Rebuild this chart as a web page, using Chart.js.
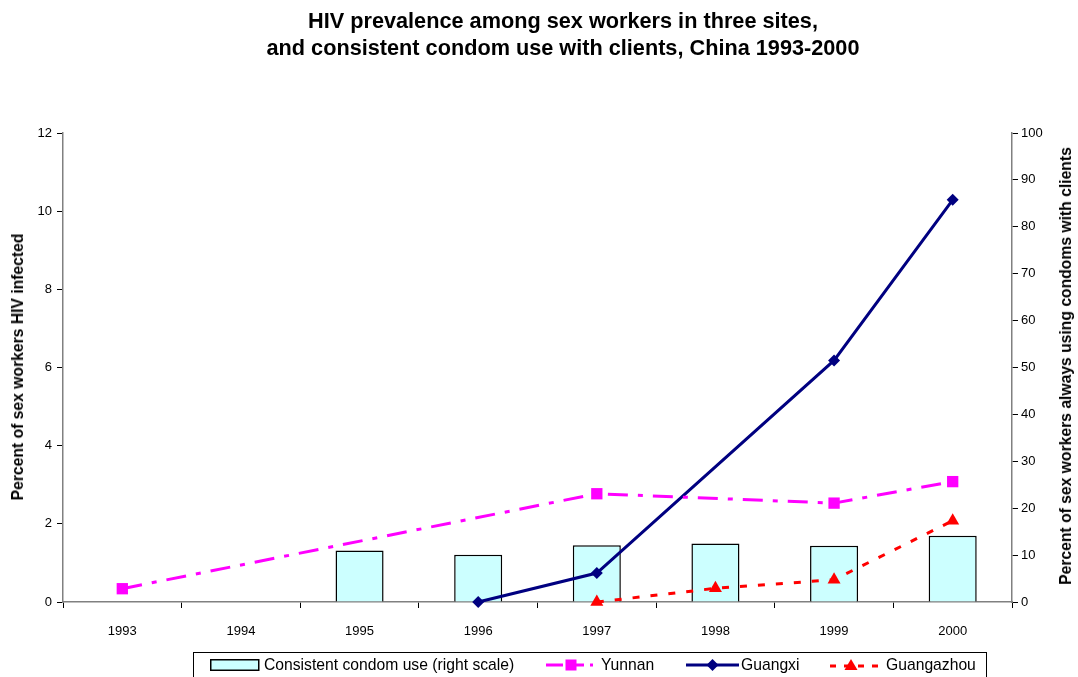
<!DOCTYPE html>
<html>
<head>
<meta charset="utf-8">
<script src="https://cdn.jsdelivr.net/npm/chart.js@4/dist/chart.umd.min.js"></script>
<style>
  html, body { margin: 0; padding: 0; background: #fff; overflow: hidden; }
  #wrap { position: relative; width: 1078px; height: 677px; overflow: hidden; font-family: "Liberation Sans", Arial, sans-serif; color: #000; }
  #c { position: absolute; left: 0; top: 0; }
  #title { position: absolute; left: 563px; top: 7px; transform: translateX(-50%); white-space: nowrap;
           text-align: center; font-weight: bold; font-size: 21.7px; line-height: 27px; }
  .atitle { position: absolute; transform: translate(-50%, -50%) rotate(-90deg);
            white-space: nowrap; font-weight: bold; font-size: 15.7px; line-height: 18px; }
  #legend { position: absolute; left: 193px; top: 652px; width: 794px; height: 32px; border: 1px solid #000; box-sizing: border-box; }
  #legend svg, #legend span { position: absolute; }
  #legend span { font-size: 15.7px; line-height: 18px; top: 3px; white-space: nowrap; }
</style>
</head>
<body>
<div id="wrap">
  <canvas id="c" width="1078" height="677"></canvas>
  <div id="title">HIV prevalence among sex workers in three sites,<br>and consistent condom use with clients, China 1993-2000</div>
  <div class="atitle" style="left:18px;top:367px">Percent of sex workers HIV infected</div>
  <div class="atitle" style="left:1066px;top:366px">Percent of sex workers always using condoms with clients</div>
  <div id="legend">
    <svg style="left:16px;top:6px" width="50" height="13"><rect x="0.75" y="0.75" width="48" height="10.5" fill="#CCFFFF" stroke="#000" stroke-width="1.5"/></svg>
    <span style="left:70px">Consistent condom use (right scale)</span>
    <svg style="left:352px;top:4px" width="53" height="16">
      <line x1="0" y1="8" x2="17" y2="8" stroke="#FF00FF" stroke-width="3"/>
      <line x1="30" y1="8" x2="38" y2="8" stroke="#FF00FF" stroke-width="3"/>
      <line x1="44" y1="8" x2="47" y2="8" stroke="#FF00FF" stroke-width="3"/>
      <rect x="19.5" y="2.5" width="11" height="11" fill="#FF00FF"/></svg>
    <span style="left:407px">Yunnan</span>
    <svg style="left:492px;top:4px" width="53" height="16"><line x1="0" y1="8" x2="53" y2="8" stroke="#000080" stroke-width="3"/><polygon points="26.5,2 32.5,8 26.5,14 20.5,8" fill="#000080"/></svg>
    <span style="left:547px">Guangxi</span>
    <svg style="left:636px;top:2px" width="53" height="18"><line x1="0" y1="11" x2="48" y2="11" stroke="#FF0000" stroke-width="3" stroke-dasharray="6,8"/><polygon points="21,4 27.5,15 14.5,15" fill="#FF0000"/></svg>
    <span style="left:692px">Guangazhou</span>
  </div>
</div>
<script>
// data
const years = ['1993', '1994', '1995', '1996', '1997', '1998', '1999', '2000'];
const condomUse = [null, null, 11.0, 10.1, 12.1, 12.5, 12.0, 14.1];   // right scale, %
const yunnan    = [0.34, null, null, null, 2.77, null, 2.53, 3.08];   // left scale, %
const guangxi   = [null, null, null, 0, 0.74, null, 6.18, 10.29];
const guangzhou = [null, null, null, null, 0, 0.35, 0.57, 2.08];

const tickFont = { family: '"Liberation Sans", Arial, sans-serif', size: 13 };

const ctx = document.getElementById('c').getContext('2d');
new Chart(ctx, {
  type: 'bar',
  data: {
    labels: years,
    datasets: [
      {
        type: 'line', label: 'Yunnan', data: yunnan, yAxisID: 'y', order: 1,
        borderColor: '#FF00FF', backgroundColor: '#FF00FF', borderWidth: 3,
        borderDash: [20, 10, 5, 10], spanGaps: true, tension: 0, clip: false,
        pointStyle: 'rect', pointRadius: 8, pointBorderWidth: 0
      },
      {
        type: 'line', label: 'Guangxi', data: guangxi, yAxisID: 'y', order: 2,
        borderColor: '#000080', backgroundColor: '#000080', borderWidth: 3,
        spanGaps: true, tension: 0, clip: false,
        pointStyle: 'rectRot', pointRadius: 6, pointBorderWidth: 0
      },
      {
        type: 'line', label: 'Guangazhou', data: guangzhou, yAxisID: 'y', order: 3,
        borderColor: '#FF0000', backgroundColor: '#FF0000', borderWidth: 3,
        borderDash: [7, 11], spanGaps: true, tension: 0, clip: false,
        pointStyle: 'triangle', pointRadius: 7.5, pointBorderWidth: 0
      },
      {
        label: 'Consistent condom use (right scale)', data: condomUse, yAxisID: 'y2', order: 4,
        backgroundColor: '#CCFFFF', borderColor: '#000', borderWidth: 1.5,
        categoryPercentage: 1, barPercentage: 0.405
      }
    ]
  },
  options: {
    responsive: false,
    animation: false,
    layout: { padding: { left: 4, right: 4, top: 133, bottom: 35 } },
    plugins: { legend: { display: false }, tooltip: { enabled: false } },
    scales: {
      x: {
        offset: true,
        grid: { drawOnChartArea: false, drawTicks: true, tickLength: 6, color: '#000', offset: true },
        border: { color: '#808080', width: 1.5 },
        ticks: { font: tickFont, color: '#000', padding: 16 },
        afterFit: s => { s.height = 40; }
      },
      y: {
        position: 'left', min: 0, max: 12,
        grid: { drawOnChartArea: false, tickLength: 6, color: '#000' },
        border: { color: '#808080', width: 1.5 },
        ticks: { stepSize: 2, font: tickFont, color: '#000', padding: 5 },
        afterFit: s => { s.width = 59; }
      },
      y2: {
        position: 'right', min: 0, max: 100,
        grid: { drawOnChartArea: false, tickLength: 6, color: '#000' },
        border: { color: '#808080', width: 1.5 },
        ticks: { stepSize: 10, font: tickFont, color: '#000', padding: 3 },
        afterFit: s => { s.width = 62; }
      }
    }
  }
});
</script>
</body>
</html>
